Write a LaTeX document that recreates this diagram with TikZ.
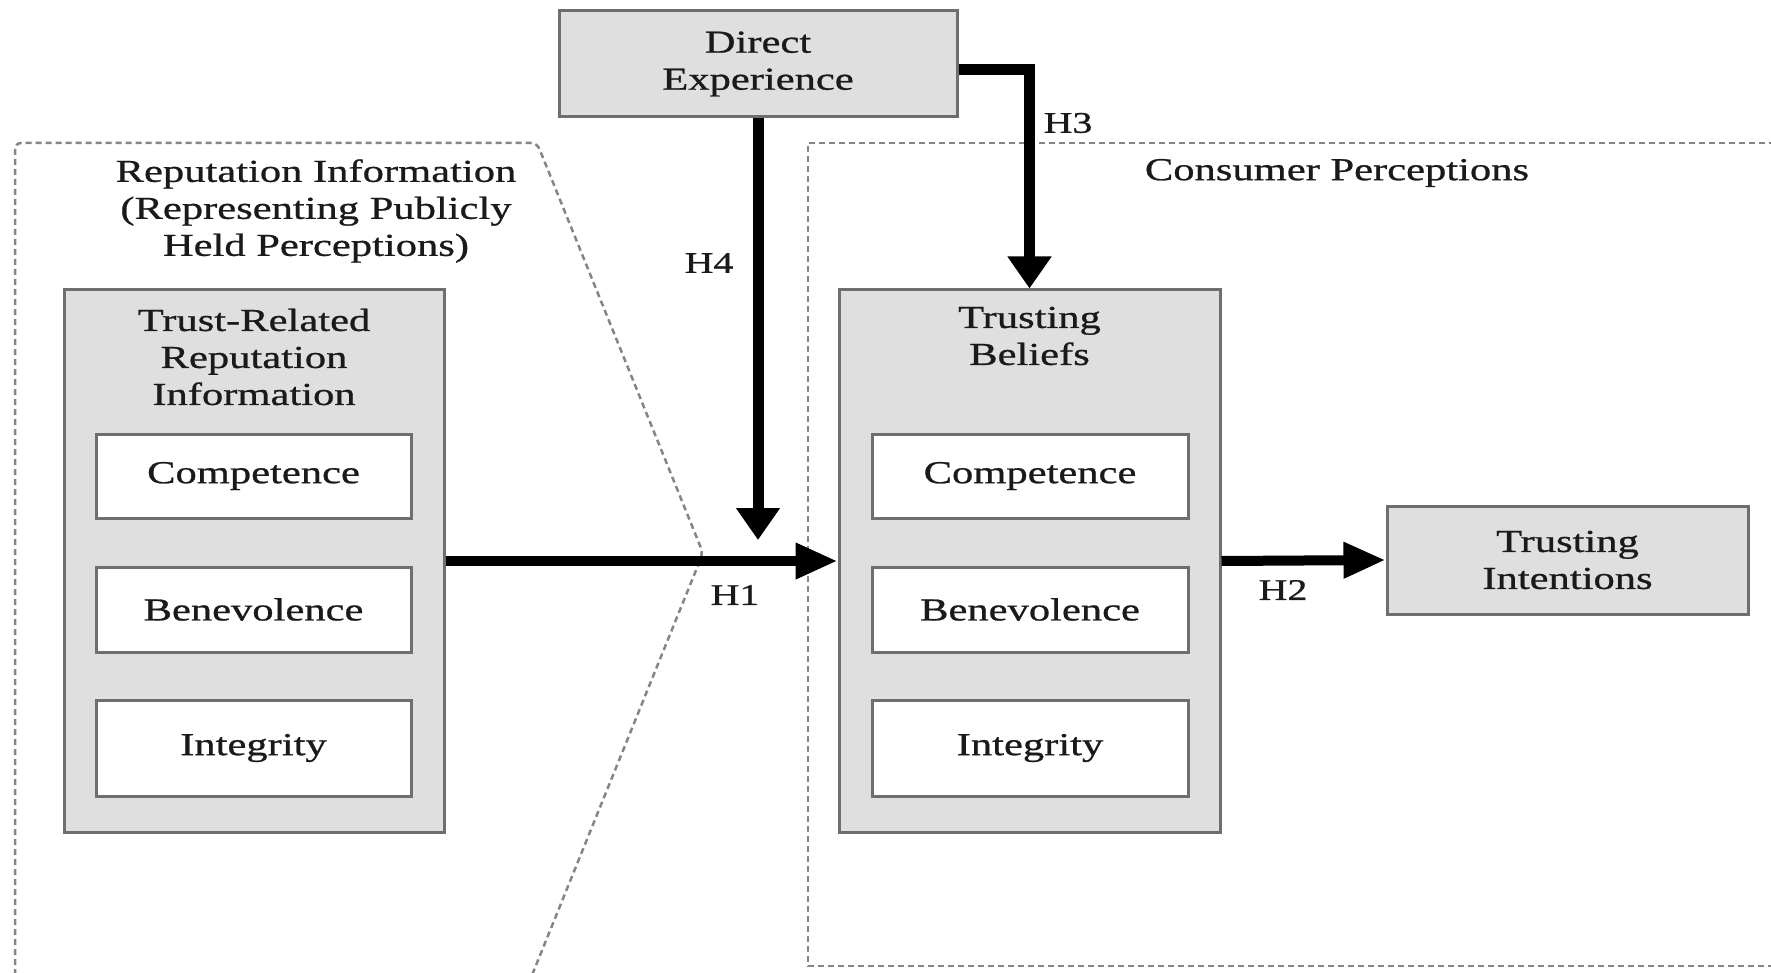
\documentclass[tikz,border=0pt]{standalone}
\usepackage{fontspec}
\setmainfont{Liberation Serif}[FakeStretch=1.33,FakeBold=0.8]
\usetikzlibrary{arrows.meta}
\definecolor{boxfill}{HTML}{DFDFDF}
\definecolor{boxline}{HTML}{6E6E6E}
\definecolor{dashgray}{HTML}{858585}
\definecolor{txt}{HTML}{1A1A1A}
\begin{document}
\begin{tikzpicture}[x=1pt,y=-1pt,
  outerbox/.style={draw=boxline, fill=boxfill, line width=3pt, inner sep=0pt},
  innerbox/.style={draw=boxline, fill=white, line width=3pt, inner sep=0pt,
     text=txt, font=\fontsize{32}{38}\selectfont},
  lbl/.style={text=txt, font=\fontsize{32}{37}\selectfont, align=center, inner sep=0pt},
  hlbl/.style={text=txt, font=\fontsize{30}{36}\selectfont, inner sep=0pt},
  region/.style={draw=dashgray, line width=2.5pt, dash pattern=on 6pt off 4pt},
  arrowH/.style={draw=black, line width=10pt, -{Triangle[length=42pt,width=34pt]}},
  arrowV/.style={draw=black, line width=11pt, -{Triangle[length=32pt,width=42pt]}}
]
\useasboundingbox (0,0) rectangle (1771,973);
\fill[white] (0,0) rectangle (1771,973);

% dashed regions
\draw[region, rounded corners=6pt] (15,985) -- (15,143) -- (537,143) -- (703,553) -- (528,985);
\draw[region] (1785,143) -- (808,143) -- (808,966) -- (1785,966);

% region titles
\node[lbl] (reptitle) at (316,211) {Reputation Information\\(Representing Publicly\\Held Perceptions)};
\node[lbl] (contitle) at (1337,173) {Consumer Perceptions};

% Direct experience
\node[outerbox, lbl, minimum width=398pt, minimum height=106pt] (DE) at (758,64) {Direct\\Experience};

% Trust-related reputation information
\node[outerbox, minimum width=380pt, minimum height=542pt] (TR) at (254,561) {};
\node[lbl] (TRt) at (254,357) {Trust-Related\\Reputation\\Information};
\node[innerbox, minimum width=315pt, minimum height=84pt] (TRc) at (253.5,476) {Competence};
\node[innerbox, minimum width=315pt, minimum height=85pt] (TRb) at (253.5,609.5) {Benevolence};
\node[innerbox, minimum width=315pt, minimum height=96pt] (TRi) at (253.5,748) {Integrity};

% Trusting beliefs
\node[outerbox, minimum width=381pt, minimum height=542pt] (TB) at (1029.5,561) {};
\node[lbl] (TBt) at (1029.5,336) {Trusting\\Beliefs};
\node[innerbox, minimum width=316pt, minimum height=84pt] (TBc) at (1030,476) {Competence};
\node[innerbox, minimum width=316pt, minimum height=85pt] (TBb) at (1030,609.5) {Benevolence};
\node[innerbox, minimum width=316pt, minimum height=96pt] (TBi) at (1030,748) {Integrity};

% Trusting intentions
\node[outerbox, lbl, minimum width=361pt, minimum height=108pt] (TI) at (1567.5,560) {Trusting\\Intentions};

% arrows
\coordinate (h4end) at (758,540);
\draw[arrowV] (DE.south) -- (h4end);
\draw[arrowV] ([yshift=-6pt]DE.east) -| (TB.north);
\draw[arrowH] (TR.east) -- (TB.west);
\draw[arrowH] (TB.east) -- (TI.west);

% hypothesis labels
\node[hlbl] (H4) at (709,263) {H4};
\node[hlbl] (H3) at (1068,123) {H3};
\node[hlbl] (H1) at (735,595) {H1};
\node[hlbl] (H2) at (1283,590) {H2};
\end{tikzpicture}
\end{document}
